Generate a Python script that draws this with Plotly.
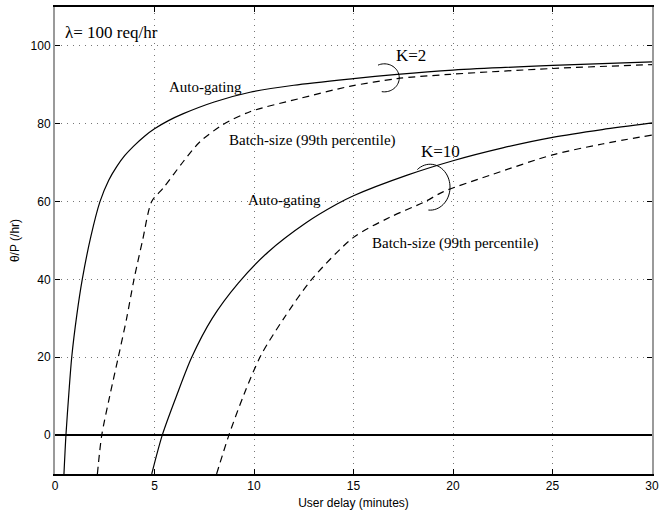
import numpy as np
import plotly.graph_objects as go

# User delay (minutes) vs. theta/P (/hr), lambda = 100 req/hr
k2_auto_x = [0.45, 0.55, 0.7, 0.84, 1.1, 1.37, 1.8, 2.26, 2.7, 3.1, 3.5, 3.94, 4.5, 5.0, 5.7, 6.45, 8.0, 9.8, 12.0, 15.0, 17.2, 20.0, 25.0, 30.0]
k2_auto_y = [-10, 0, 11, 20, 31, 40, 51, 60, 65.5, 69, 71.8, 74.2, 76.8, 78.7, 80.8, 82.6, 85.6, 88.1, 89.9, 91.6, 92.7, 93.8, 95.0, 95.9]

k2_batch_x = [2.13, 2.35, 2.75, 3.18, 3.6, 3.97, 4.4, 4.86, 5.44, 6.45, 7.29, 8.45, 9.8, 12.3, 14.8, 17.2, 19.85, 25.0, 30.0]
k2_batch_y = [-10, 0, 10, 20, 30, 40, 50, 60, 63.5, 70.3, 75.4, 79.8, 83.1, 86.5, 89.6, 91.6, 92.7, 94.2, 95.2]

k10_auto_x = [4.86, 5.39, 6.1, 6.87, 7.9, 9.2, 10.7, 12.6, 14.15, 15.0, 17.7, 20.0, 22.5, 25.0, 27.5, 30.0]
k10_auto_y = [-10, 0, 10, 20, 30, 39, 47, 54.5, 59.3, 61.5, 66.8, 70.5, 73.8, 76.5, 78.5, 80.2]

k10_batch_x = [8.12, 8.74, 9.5, 10.35, 11.5, 12.9, 15.0, 16.8, 18.6, 19.5, 22.0, 25.0, 27.5, 30.0]
k10_batch_y = [-10, 0, 10.5, 20.5, 30, 40, 50.8, 55.9, 60, 62.5, 67.0, 72.0, 74.8, 77.1]

x_ticks = [0, 5, 10, 15, 20, 25, 30]
y_ticks = [0, 20, 40, 60, 80, 100]

SERIF = "Liberation Serif, Times New Roman, serif"
SANS = "Liberation Sans, Arial, Helvetica, sans-serif"

fig = go.Figure()

solid = dict(color="black", width=1.2)
dashed = dict(color="black", width=1.2, dash="7px,5px")

for xs, ys, ln in [(k2_auto_x, k2_auto_y, solid), (k2_batch_x, k2_batch_y, dashed),
                   (k10_auto_x, k10_auto_y, solid), (k10_batch_x, k10_batch_y, dashed)]:
    fig.add_trace(go.Scatter(x=xs, y=ys, mode="lines", line=ln,
                             line_shape="spline", line_smoothing=0.8,
                             showlegend=False, hoverinfo="skip"))


def arc_path(cx, cy, rx, ry, a0, a1, n=40):
    t = np.radians(np.linspace(a0, a1, n))
    px = cx + rx * np.cos(t)
    py = cy + ry * np.sin(t)
    return "M " + " L ".join(f"{a:.4f},{b:.4f}" for a, b in zip(px, py))


# bracket arcs tying each K label to its pair of curves
fig.add_shape(type="path", xref="x", yref="y",
              path=arc_path(16.55, 91.8, 0.75, 3.6, 115, -100),
              line=dict(color="black", width=1))
fig.add_shape(type="path", xref="x", yref="y",
              path=arc_path(18.85, 63.7, 1.0, 5.9, 130, -95),
              line=dict(color="black", width=1))

notes = [
    ("\u03bb= 100 req/hr", 0.4, 103.5, "left", 17),
    ("K=2", 17.89, 97.6, "center", 17),
    ("Auto-gating", 7.54, 89.5, "center", 15),
    ("Batch-size (99th percentile)", 12.96, 75.8, "center", 15),
    ("K=10", 19.35, 72.8, "center", 17),
    ("Auto-gating", 11.51, 60.4, "center", 15),
    ("Batch-size (99th percentile)", 20.15, 49.2, "center", 15),
]
for text, x, y, anchor, size in notes:
    fig.add_annotation(x=x, y=y, text=text, showarrow=False, xanchor=anchor,
                       yanchor="middle", font=dict(family=SERIF, size=size, color="black"))

grid = dict(showgrid=True, gridcolor="#777777", griddash="1px,5px", gridwidth=1)

fig.update_layout(
    width=668, height=515,
    margin=dict(l=55, r=16, t=5, b=41),
    paper_bgcolor="white", plot_bgcolor="white",
    font=dict(family=SANS, size=12, color="black"),
    xaxis=dict(
        range=[0, 30], tickvals=x_ticks, ticks="inside", ticklen=5,
        tickcolor="black", showline=True, linecolor="black", linewidth=1.5,
        mirror="ticks", zeroline=False, **grid,
        title=dict(text="User delay (minutes)", font=dict(size=12), standoff=6),
        tickfont=dict(size=12),
    ),
    yaxis=dict(
        range=[-10, 110], tickvals=y_ticks, ticks="inside", ticklen=5,
        tickcolor="black", showline=True, linecolor="#9a9a9a", linewidth=2,
        mirror="ticks", zeroline=True, zerolinecolor="black", zerolinewidth=1.5,
        **grid,
        title=dict(text="\u03b8/P (/hr)", font=dict(size=12), standoff=8),
        tickfont=dict(size=12),
    ),
)

fig.write_html("out.html")
